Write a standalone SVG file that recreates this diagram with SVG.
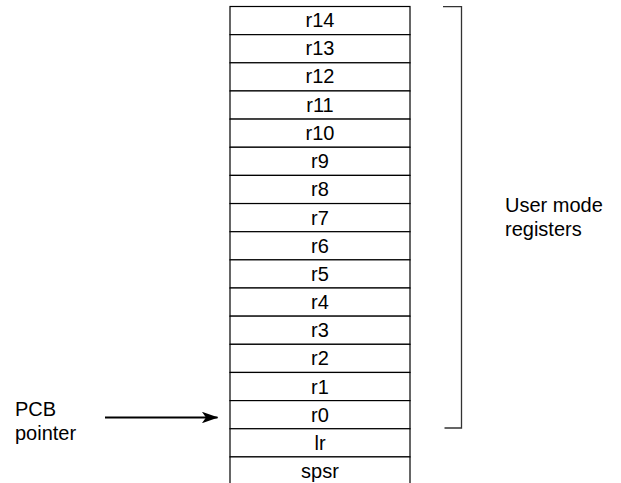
<svg xmlns="http://www.w3.org/2000/svg" width="621" height="483" viewBox="0 0 621 483">
  <defs>
    <style>
      .cell { fill: #ffffff; stroke: #000000; stroke-width: 1.2; }
      .lbl { font-family: "Liberation Sans", Arial, sans-serif; font-size: 20px; fill: #000000; }
      .mid { text-anchor: middle; }
      .wire { fill: none; stroke: #000000; stroke-width: 1.8; }
      .brace { fill: none; stroke: #333333; stroke-width: 1.3; }
    </style>
    <marker id="arrowhead" viewBox="0 0 20 14" refX="19" refY="7" markerWidth="17" markerHeight="11.5" markerUnits="userSpaceOnUse" orient="auto">
      <path d="M0,0 L20,7 L0,14 L5,7 Z" fill="#000000"/>
    </marker>
  </defs>
  <rect width="621" height="483" fill="#ffffff"/>

  <!-- register stack, top to bottom -->
  <g id="r14"><rect class="cell" x="230" y="6.5" width="180" height="28.15"/><text class="lbl mid" x="320" y="27">r14</text></g>
  <g id="r13"><rect class="cell" x="230" y="34.65" width="180" height="28.15"/><text class="lbl mid" x="320" y="55.2">r13</text></g>
  <g id="r12"><rect class="cell" x="230" y="62.8" width="180" height="28.15"/><text class="lbl mid" x="320" y="83.4">r12</text></g>
  <g id="r11"><rect class="cell" x="230" y="90.95" width="180" height="28.15"/><text class="lbl mid" x="320" y="111.5">r11</text></g>
  <g id="r10"><rect class="cell" x="230" y="119.1" width="180" height="28.15"/><text class="lbl mid" x="320" y="139.7">r10</text></g>
  <g id="r9"><rect class="cell" x="230" y="147.25" width="180" height="28.15"/><text class="lbl mid" x="320" y="167.8">r9</text></g>
  <g id="r8"><rect class="cell" x="230" y="175.4" width="180" height="28.15"/><text class="lbl mid" x="320" y="196">r8</text></g>
  <g id="r7"><rect class="cell" x="230" y="203.55" width="180" height="28.15"/><text class="lbl mid" x="320" y="224.6">r7</text></g>
  <g id="r6"><rect class="cell" x="230" y="231.7" width="180" height="28.15"/><text class="lbl mid" x="320" y="252.8">r6</text></g>
  <g id="r5"><rect class="cell" x="230" y="259.85" width="180" height="28.15"/><text class="lbl mid" x="320" y="280.9">r5</text></g>
  <g id="r4"><rect class="cell" x="230" y="288" width="180" height="28.15"/><text class="lbl mid" x="320" y="309.1">r4</text></g>
  <g id="r3"><rect class="cell" x="230" y="316.15" width="180" height="28.15"/><text class="lbl mid" x="320" y="337.2">r3</text></g>
  <g id="r2"><rect class="cell" x="230" y="344.3" width="180" height="28.15"/><text class="lbl mid" x="320" y="365.4">r2</text></g>
  <g id="r1"><rect class="cell" x="230" y="372.45" width="180" height="28.15"/><text class="lbl mid" x="320" y="393.5">r1</text></g>
  <g id="r0"><rect class="cell" x="230" y="400.6" width="180" height="28.15"/><text class="lbl mid" x="320" y="421.7">r0</text></g>
  <g id="lr"><rect class="cell" x="230" y="428.75" width="180" height="28.15"/><text class="lbl mid" x="320" y="449.8">lr</text></g>
  <g id="spsr"><rect class="cell" x="230" y="456.9" width="180" height="28.15"/><text class="lbl mid" x="320" y="478">spsr</text></g>

  <!-- bracket spanning r14..r0 with its caption -->
  <g id="user-mode">
    <path class="brace" d="M443,6.7 H461.5 V428 H444.5"/>
    <text class="lbl" x="505" y="211.7">User mode</text>
    <text class="lbl" x="505" y="235.7">registers</text>
  </g>

  <!-- pointer label -->
  <g id="pcb-pointer">
    <text class="lbl" x="15" y="416">PCB</text>
    <text class="lbl" x="15" y="440">pointer</text>
  </g>

  <g id="connectors">
    <line class="wire" x1="105" y1="417.5" x2="217.5" y2="417.5" marker-end="url(#arrowhead)"/>
  </g>
</svg>
